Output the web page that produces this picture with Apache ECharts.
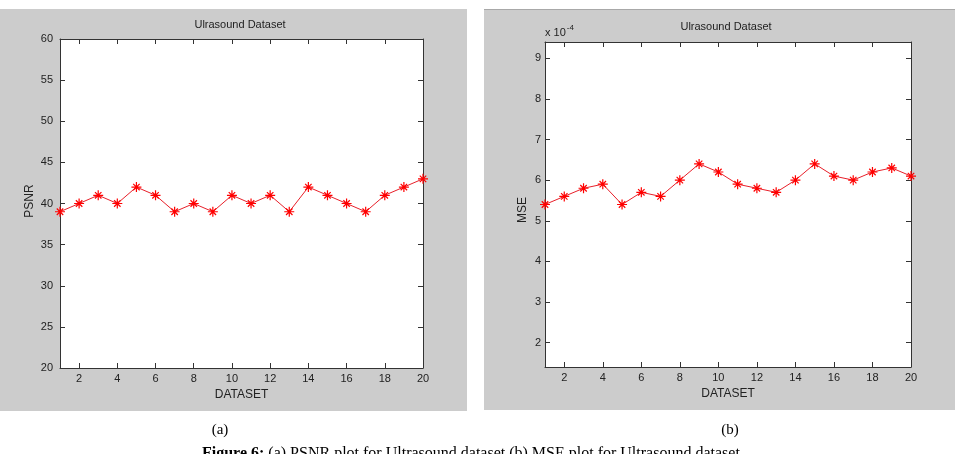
<!DOCTYPE html>
<html>
<head>
<meta charset="utf-8">
<script src="https://cdn.jsdelivr.net/npm/echarts@6/dist/echarts.min.js"></script>
<style>
  html, body { margin: 0; padding: 0; background: #fff; }
  #chart { width: 960px; height: 454px; }
</style>
</head>
<body>
<div id="chart"></div>
<script>
// data
const datasetIds = [1, 2, 3, 4, 5, 6, 7, 8, 9, 10, 11, 12, 13, 14, 15, 16, 17, 18, 19, 20];
const psnrValues = [39, 40, 41, 40, 42, 41, 39, 40, 39, 41, 40, 41, 39, 42, 41, 40, 39, 41, 42, 43];
// MSE in units of 1e-4
const mseValues = [5.4, 5.6, 5.8, 5.9, 5.4, 5.7, 5.6, 6.0, 6.4, 6.2, 5.9, 5.8, 5.7, 6.0, 6.4, 6.1, 6.0, 6.2, 6.3, 6.1];
const xTicks = [2, 4, 6, 8, 10, 12, 14, 16, 18, 20];
const psnrTicks = [20, 25, 30, 35, 40, 45, 50, 55, 60];
const mseTicks = [2, 3, 4, 5, 6, 7, 8, 9];

const FONT = 'Liberation Sans';
const SERIF = 'Liberation Serif';
const frame = '#333';
// matlab style '*' marker
const star = 'path://M0 8.8L20 8.8L20 11.2L0 11.2ZM8.8 0L11.2 0L11.2 20L8.8 20Z' +
  'M4.4 2.7L17.3 15.6L15.6 17.3L2.7 4.4ZM15.6 2.7L17.3 4.4L4.4 17.3L2.7 15.6Z';

function xAxes(gridIndex) {
  return [
    {
      type: 'value', gridIndex, min: 1, max: 20, position: 'bottom',
      name: 'DATASET', nameLocation: 'middle', nameGap: 20,
      nameTextStyle: { fontFamily: FONT, fontSize: 12, color: '#222' },
      axisLine: { lineStyle: { color: frame } },
      axisTick: { inside: true, length: 5, customValues: xTicks, lineStyle: { color: frame } },
      axisLabel: { customValues: xTicks, margin: 5, fontFamily: FONT, fontSize: 11, color: '#222' },
      splitLine: { show: false }
    },
    {
      type: 'value', gridIndex, min: 1, max: 20, position: 'top',
      axisLine: { lineStyle: { color: frame } },
      axisTick: { inside: true, length: 5, customValues: xTicks, lineStyle: { color: frame } },
      axisLabel: { show: false },
      splitLine: { show: false }
    }
  ];
}

function yAxes(gridIndex, min, max, ticks, margin) {
  return [
    {
      type: 'value', gridIndex, min, max, position: 'left',
      axisLine: { show: true, lineStyle: { color: frame } },
      axisTick: { show: true, inside: true, length: 5, customValues: ticks, lineStyle: { color: frame } },
      axisLabel: { customValues: ticks, margin, fontFamily: FONT, fontSize: 11, color: '#222' },
      splitLine: { show: false }
    },
    {
      type: 'value', gridIndex, min, max, position: 'right',
      axisLine: { show: true, lineStyle: { color: frame } },
      axisTick: { show: true, inside: true, length: 5, customValues: ticks, lineStyle: { color: frame } },
      axisLabel: { show: false },
      splitLine: { show: false }
    }
  ];
}

function lineSeries(values, xIdx, yIdx) {
  return {
    type: 'line',
    xAxisIndex: xIdx, yAxisIndex: yIdx,
    data: datasetIds.map((d, i) => [d, values[i]]),
    symbol: star, symbolSize: 10, showAllSymbol: true,
    lineStyle: { color: '#e8202a', width: 1 },
    itemStyle: { color: '#ff0000' },
    animation: false
  };
}

function label(x, y, text, extra) {
  return {
    type: 'text', x, y, z: 10,
    style: Object.assign({ text, fontFamily: FONT, fontSize: 11, fill: '#222', align: 'center', verticalAlign: 'middle' }, extra || {})
  };
}

function yName(x, y, text) {
  const el = label(x, y, text, { fontSize: 12 });
  el.rotation = Math.PI / 2;
  return el;
}

const chart = echarts.init(document.getElementById('chart'), null, { renderer: 'canvas' });
chart.setOption({
  backgroundColor: '#fff',
  animation: false,
  grid: [
    { left: 60, top: 39, width: 363, height: 329, show: true, backgroundColor: '#fff', borderWidth: 0 },
    { left: 545, top: 42, width: 366, height: 325, show: true, backgroundColor: '#fff', borderWidth: 0 }
  ],
  xAxis: [...xAxes(0), ...xAxes(1)],
  yAxis: [...yAxes(0, 20, 60, psnrTicks, 7), ...yAxes(1, 1.4, 9.4, mseTicks, 4)],
  series: [
    lineSeries(psnrValues, 0, 0),
    lineSeries(mseValues, 2, 2)
  ],
  graphic: [
    { type: 'rect', z: -10, shape: { x: 0, y: 9, width: 467, height: 402 }, style: { fill: '#cccccc' } },
    { type: 'rect', z: -10, shape: { x: 484, y: 10, width: 471, height: 400 }, style: { fill: '#cccccc' } },
    { type: 'line', z: -9, shape: { x1: 484, y1: 9.5, x2: 955, y2: 9.5 }, style: { stroke: '#a8a8a8', lineWidth: 1 } },
    label(240, 25, 'Ulrasound Dataset'),
    label(726, 27, 'Ulrasound Dataset'),
    yName(30, 201, 'PSNR'),
    yName(523, 210, 'MSE'),
    {
      type: 'text', x: 545, y: 33, z: 10,
      style: {
        text: 'x 10{s|-4}', fontFamily: FONT, fontSize: 11, fill: '#222', verticalAlign: 'middle',
        rich: { s: { fontFamily: FONT, fontSize: 8, fill: '#222', verticalAlign: 'bottom', padding: [0, 0, 10, 1] } }
      }
    },
    label(220, 430, '(a)', { fontFamily: SERIF, fontSize: 15, fill: '#000' }),
    label(730, 430, '(b)', { fontFamily: SERIF, fontSize: 15, fill: '#000' }),
    {
      type: 'text', x: 202, y: 446, z: 10,
      style: {
        text: '{b|Figure 6:} (a) PSNR plot for Ultrasound dataset (b) MSE plot for Ultrasound dataset',
        fontFamily: SERIF, fontSize: 16, fill: '#000', verticalAlign: 'top',
        rich: { b: { fontFamily: SERIF, fontSize: 16, fontWeight: 'bold', fill: '#000' } }
      }
    }
  ]
});
</script>
</body>
</html>
